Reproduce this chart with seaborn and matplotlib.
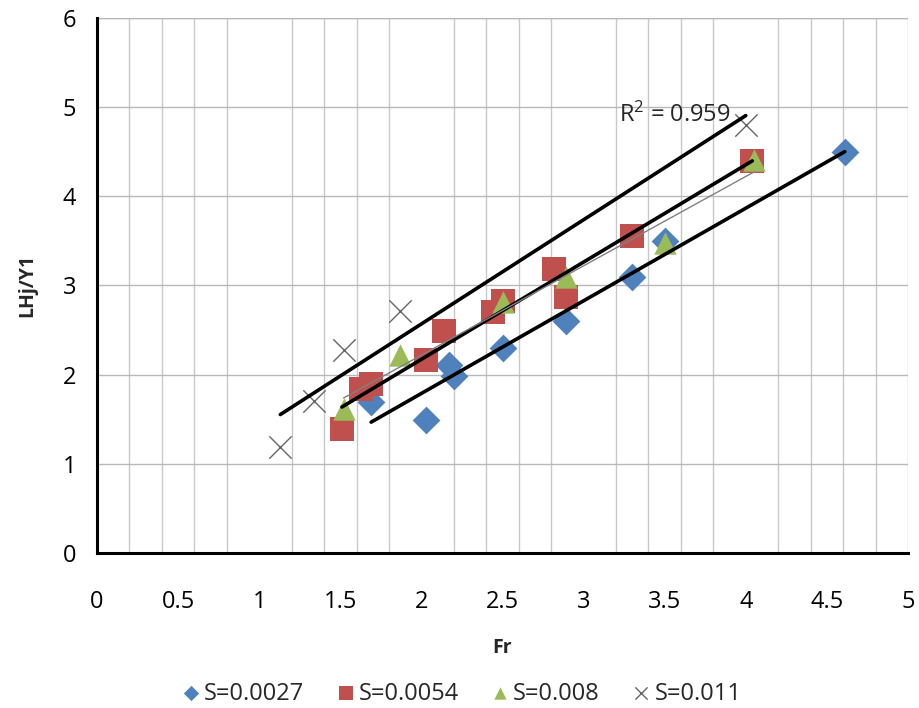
import numpy as np
import pandas as pd
import matplotlib.pyplot as plt
import seaborn as sns
from matplotlib.ticker import MultipleLocator

# values
fr_0027 = [1.69, 2.03, 2.17, 2.20, 2.50, 2.89, 3.30, 3.50, 4.61]
lhj_0027 = [1.69, 1.49, 2.11, 1.98, 2.30, 2.60, 3.09, 3.50, 4.50]

fr_0054 = [1.51, 1.63, 1.69, 2.03, 2.14, 2.44, 2.50, 2.82, 2.89, 3.30, 4.04]
lhj_0054 = [1.39, 1.84, 1.90, 2.16, 2.49, 2.70, 2.83, 3.19, 2.87, 3.56, 4.40]

fr_008 = [1.52, 1.87, 2.50, 2.89, 3.50, 4.05]
lhj_008 = [1.62, 2.22, 2.82, 3.10, 3.48, 4.41]

fr_011 = [1.13, 1.34, 1.52, 1.87, 4.00]
lhj_011 = [1.19, 1.70, 2.28, 2.71, 4.80]

series = [
    ('S=0.0027', fr_0027, lhj_0027, 'D', '#4F81BD'),
    ('S=0.0054', fr_0054, lhj_0054, 's', '#C0504D'),
    ('S=0.008', fr_008, lhj_008, '^', '#9BBB59'),
    ('S=0.011', fr_011, lhj_011, 'x', '#666666'),
]
trend_styles = {
    'S=0.0027': dict(color='black', lw=2.6),
    'S=0.0054': dict(color='black', lw=2.6),
    'S=0.008': dict(color='#808080', lw=1.0),
    'S=0.011': dict(color='black', lw=2.6),
}

sns.set_style('white')
plt.rcParams['font.family'] = ['Open Sans', 'DejaVu Sans']
plt.rcParams['mathtext.default'] = 'regular'

fig = plt.figure(figsize=(9.19, 7.08), dpi=100)
ax = fig.add_axes([0.1056, 0.219, 0.8824, 0.7556])

for name, xs, ys, mk, col in series:
    df = pd.DataFrame({'Fr': xs, 'LHj': ys})
    if mk == 'x':
        sns.scatterplot(data=df, x='Fr', y='LHj', marker='x', color=col, s=260,
                        linewidth=1.0, label=name, ax=ax, zorder=3)
    else:
        size = {'D': 200, 's': 300, '^': 260}[mk]
        sns.scatterplot(data=df, x='Fr', y='LHj', marker=mk, color=col, s=size,
                        edgecolor=col, linewidth=0, label=name, ax=ax, zorder=3)

for name, xs, ys, mk, col in series:
    sns.regplot(x=np.array(xs), y=np.array(ys), scatter=False, ci=None, ax=ax,
                line_kws=dict(zorder=4, **trend_styles[name]))

ax.text(3.22, 4.91, 'R$^2$ = 0.959', fontsize=17, ha='left', va='center', zorder=5)

ax.set_xlim(0, 5)
ax.set_ylim(0, 6)
ax.xaxis.set_minor_locator(MultipleLocator(0.2))
ax.yaxis.set_major_locator(MultipleLocator(1))
ax.set_xticks(np.arange(0, 5.01, 0.5))
ax.set_xticklabels(['0', '0.5', '1', '1.5', '2', '2.5', '3', '3.5', '4', '4.5', '5'])

ax.grid(False)
ax.grid(which='minor', axis='x', color='#C8C8C8', lw=1.0)
ax.grid(which='major', axis='y', color='#B8B8B8', lw=1.0)
ax.axvline(5, color='#C8C8C8', lw=1.0, zorder=0)
ax.axhline(6, color='#B8B8B8', lw=1.0, zorder=0)
ax.set_axisbelow(True)

for s in ['top', 'right']:
    ax.spines[s].set_visible(False)
for s in ['left', 'bottom']:
    ax.spines[s].set_color('black')
    ax.spines[s].set_linewidth(2.2)

ax.tick_params(axis='both', which='major', direction='out', length=6, width=2.2,
               colors='black', labelsize=17)
ax.tick_params(axis='x', which='major', pad=21)
ax.tick_params(axis='y', which='major', pad=9)
ax.tick_params(axis='x', which='minor', length=0)

ax.set_xlabel('Fr', fontsize=14, fontweight='bold', labelpad=17)
ax.set_ylabel('LHj/Y1', fontsize=14, fontweight='bold', labelpad=18)

ax.legend(loc='center', bbox_to_anchor=(0.448, -0.263), ncol=4, frameon=False,
          fontsize=17, markerscale=0.55, handletextpad=0.05, columnspacing=1.25,
          handlelength=1.0)

plt.savefig('out.png', dpi=100)
plt.close()
